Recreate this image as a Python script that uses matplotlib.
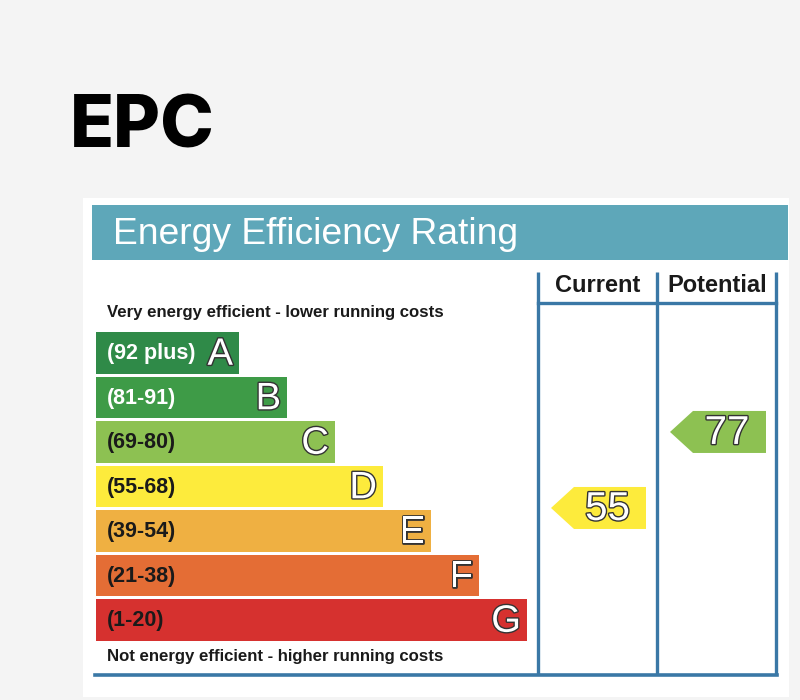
import matplotlib.pyplot as plt
from matplotlib.patches import Rectangle, Polygon
import matplotlib.patheffects as pe

bands = ["A", "B", "C", "D", "E", "F", "G"]
ranges = ["(92 plus)", "(81-91)", "(69-80)", "(55-68)", "(39-54)", "(21-38)", "(1-20)"]
band_colors = ["#2f8a48", "#3e9b47", "#8dc152", "#fdeb3c", "#efb042", "#e46d35", "#d6312f"]
label_colors = ["white", "white", "#1a1a1a", "#1a1a1a", "#1a1a1a", "#1a1a1a", "#1a1a1a"]
current = 55
potential = 77
current_color = "#fdeb3c"
potential_color = "#8dc152"

line_col = "#3a78a6"
outline = [pe.withStroke(linewidth=2.0, foreground="#333333")]

fig = plt.figure(figsize=(8, 7), dpi=100, facecolor="#f4f4f4")
ax = fig.add_axes([0, 0, 1, 1])
ax.set_xlim(0, 800)
ax.set_ylim(700, 0)
ax.axis("off")

# title
ax.text(70, 128, "EPC", fontsize=52, fontweight="heavy", family=["Inter", "DejaVu Sans"],
        color="black", va="center", ha="left")

# white panel and header
ax.add_patch(Rectangle((83, 198), 706, 499, facecolor="white", edgecolor="none"))
ax.add_patch(Rectangle((92, 205), 696, 55, facecolor="#5ea7b9", edgecolor="none"))
ax.text(113, 235, "Energy Efficiency Rating", fontsize=26.8, color="white",
        family="Liberation Sans", va="center", ha="left")

# rating bars
row_top = 332
pitch = 44.5
bar_h = 41.5
left = 96
y_centers = [row_top + bar_h / 2 + i * pitch for i in range(len(bands))]
widths = [143 + 48 * i for i in range(len(bands))]
ax.barh(y_centers, widths, left=left, height=bar_h, color=band_colors)
for yc, w, letter, rng, lc in zip(y_centers, widths, bands, ranges, label_colors):
    ax.text(107, yc + 1, rng, fontsize=15.5, fontweight="bold", color=lc,
            family="Liberation Sans", va="center", ha="left")
    ax.text(left + w - 6, yc + 2, letter, fontsize=27.5, color="white",
            family="Liberation Sans", va="center", ha="right", path_effects=outline)

ax.text(107, 312, "Very energy efficient - lower running costs", fontsize=12.1,
        fontweight="bold", color="#1a1a1a", family="Liberation Sans", va="center")
ax.text(107, 656, "Not energy efficient - higher running costs", fontsize=12.1,
        fontweight="bold", color="#1a1a1a", family="Liberation Sans", va="center")

# columns
col_x = [538, 657, 776]
for x in col_x:
    ax.plot([x, x], [272, 675], color=line_col, lw=2.4, solid_capstyle="butt")
ax.plot([col_x[0], col_x[2]], [303, 303], color=line_col, lw=2.4)
ax.plot([95, col_x[2] + 1.2], [675, 675], color=line_col, lw=2.6)
ax.text((col_x[0] + col_x[1]) / 2, 286, "Current", fontsize=17, fontweight="bold",
        family="Liberation Sans", va="center", ha="center", color="#1a1a1a")
ax.text((col_x[1] + col_x[2]) / 2 + 1, 286, "Potential", fontsize=17, fontweight="bold",
        family="Liberation Sans", va="center", ha="center", color="#1a1a1a")


def score_y(score):
    return 698 - 3.455 * score


def arrow(x_tip, x_right, score, color):
    yc = score_y(score)
    h = 21
    pts = [(x_tip, yc), (x_tip + 23, yc - h), (x_right, yc - h), (x_right, yc + h), (x_tip + 23, yc + h)]
    ax.add_patch(Polygon(pts, closed=True, facecolor=color, edgecolor="none"))
    ax.text((x_tip + 12 + x_right) / 2 + 3, yc + 1, str(score), fontsize=29, color="white",
            family="Liberation Sans", va="center", ha="center", path_effects=outline)


arrow(551, 646, current, current_color)
arrow(670, 766, potential, potential_color)

fig.savefig("out.png", dpi=100, facecolor=fig.get_facecolor())
